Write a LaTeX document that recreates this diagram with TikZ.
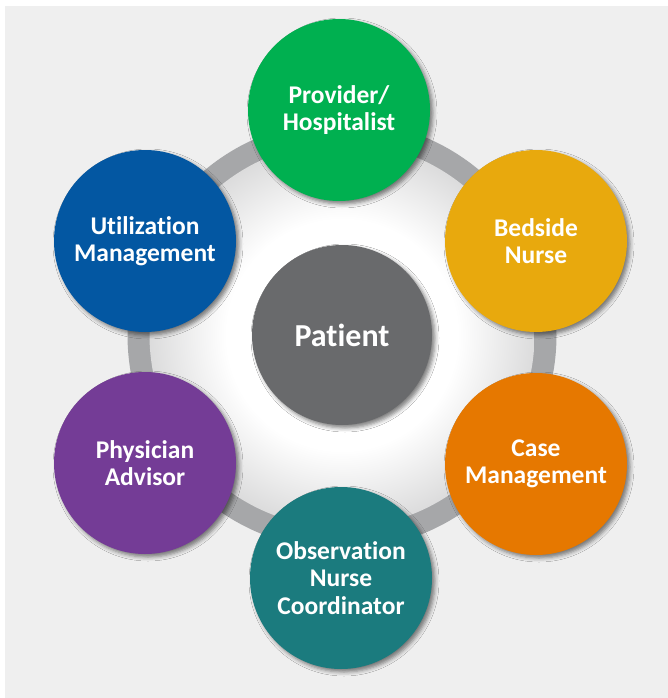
\documentclass[tikz,border=0pt]{standalone}
\usepackage{fontspec}
\setmainfont{Carlito}[RawFeature=-liga]
\usetikzlibrary{shadows.blur}

\definecolor{panel}{HTML}{EFEFEF}
\definecolor{ringgray}{HTML}{A6A7A9}
\definecolor{discedge}{HTML}{B7B7B8}
\definecolor{patientgray}{HTML}{696A6C}
\definecolor{provgreen}{HTML}{00B050}
\definecolor{umblue}{HTML}{0357A2}
\definecolor{nurseyellow}{HTML}{E8A90D}
\definecolor{caseorange}{HTML}{E67800}
\definecolor{physpurple}{HTML}{743C96}
\definecolor{obsteal}{HTML}{1B7B7E}

% white centre fading to grey at the rim (rim sits at about 35.4bp)
\pgfdeclareradialshading{hubdisc}{\pgfpoint{0bp}{0bp}}{%
  color(0bp)=(white); color(15bp)=(white); color(35.4bp)=(discedge);
  color(50bp)=(discedge)}

\begin{document}
\begin{tikzpicture}[x=1pt,y=-1pt,
  role/.style={circle, minimum size=182pt, inner sep=0pt, align=center,
    text=white, font=\bfseries\fontsize{25.5}{27.5}\selectfont,
    blur shadow={shadow xshift=3pt, shadow yshift=-3pt,
      shadow blur radius=4pt, shadow opacity=50}},
  centre/.style={role, minimum size=180pt,
    font=\bfseries\fontsize{32}{36}\selectfont}]

\useasboundingbox (0,0) rectangle (668,698);
\fill[white] (0,0) rectangle (668,698);
\fill[panel] (5,6) rectangle (668,698);

% grey ring around the shaded hub
\fill[ringgray] (342,335) circle (214.5);
\shade[shading=hubdisc] (342,335) circle (192.5);

% centre and the six roles around it
\node[centre, fill=patientgray] (patient) at (342,335) {Patient};
\node[role, fill=provgreen]   (provider)    at (339,110) {Provider/\\Hospitalist};
\node[role, fill=nurseyellow] (bedside)     at (536,241) {Bedside\\Nurse};
\node[role, fill=caseorange]  (casemgmt)    at (536,464) {Case\\Management};
\node[role, fill=obsteal]     (observation) at (341,578) {Observation\\Nurse\\Coordinator};
\node[role, fill=physpurple]  (physician)   at (145,463) {Physician\\Advisor};
\node[role, fill=umblue]      (utilization) at (145,241) {Utilization\\Management};
\end{tikzpicture}
\end{document}
